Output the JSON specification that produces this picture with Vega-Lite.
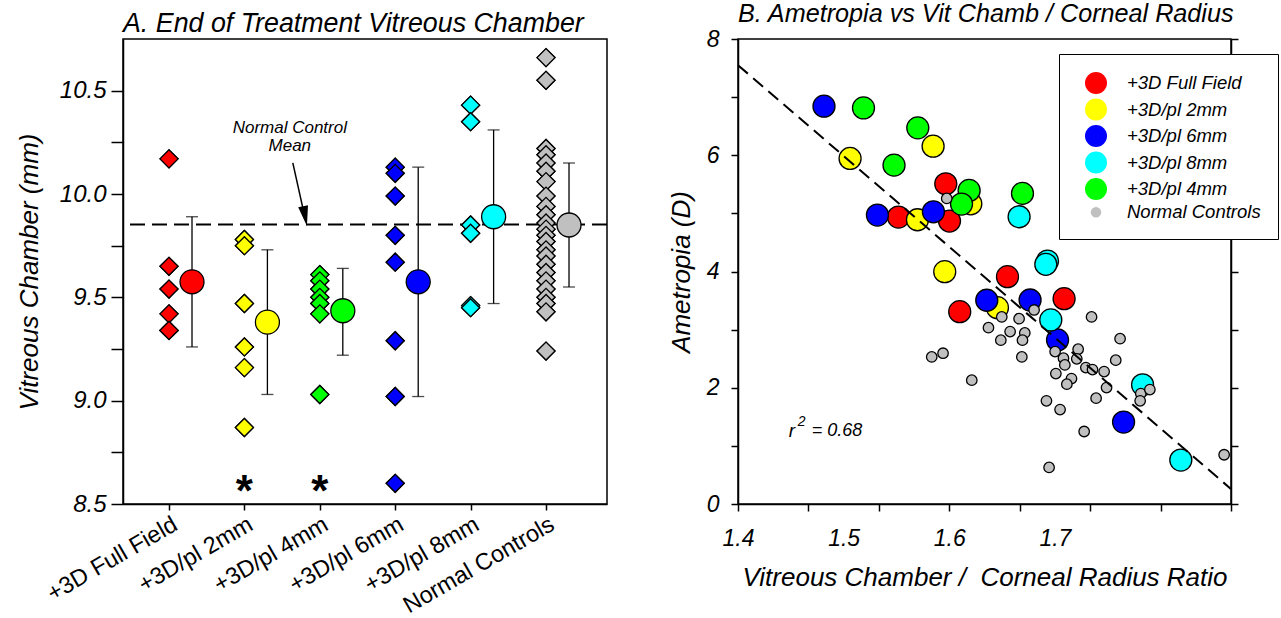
{
  "$schema": "https://vega.github.io/schema/vega-lite/v6.json",
  "background": "white",
  "padding": {"left": 15, "top": 1, "right": 5, "bottom": 5},
  "spacing": 58,
  "config": {
    "font": "Liberation Sans",
    "view": {"stroke": "black", "strokeWidth": 1.5},
    "axis": {"domainColor": "black", "tickColor": "black", "labelColor": "black", "titleColor": "black", "grid": false, "domainWidth": 1.5, "tickWidth": 1.5, "labelFont": "Liberation Sans", "titleFont": "Liberation Sans", "labelFlush": false, "labelOverlap": false, "labelBound": false},
    "title": {"anchor": "start", "frame": "group", "fontSize": 26, "fontStyle": "italic", "fontWeight": "normal", "font": "Liberation Sans", "color": "black", "offset": 1}
  },
  "datasets": {
    "one": [{"k": 1}],
    "dia": [
      {"g": "+3D Full Field", "v": 10.17}, {"g": "+3D Full Field", "v": 9.65}, {"g": "+3D Full Field", "v": 9.54}, {"g": "+3D Full Field", "v": 9.42}, {"g": "+3D Full Field", "v": 9.34}, {"g": "+3D Full Field", "v": 9.34},
      {"g": "+3D/pl 2mm", "v": 9.78}, {"g": "+3D/pl 2mm", "v": 9.75}, {"g": "+3D/pl 2mm", "v": 9.47}, {"g": "+3D/pl 2mm", "v": 9.26}, {"g": "+3D/pl 2mm", "v": 9.16}, {"g": "+3D/pl 2mm", "v": 8.87},
      {"g": "+3D/pl 4mm", "v": 9.61}, {"g": "+3D/pl 4mm", "v": 9.58}, {"g": "+3D/pl 4mm", "v": 9.54}, {"g": "+3D/pl 4mm", "v": 9.5}, {"g": "+3D/pl 4mm", "v": 9.47}, {"g": "+3D/pl 4mm", "v": 9.42}, {"g": "+3D/pl 4mm", "v": 9.03},
      {"g": "+3D/pl 6mm", "v": 10.13}, {"g": "+3D/pl 6mm", "v": 10.1}, {"g": "+3D/pl 6mm", "v": 9.99}, {"g": "+3D/pl 6mm", "v": 9.8}, {"g": "+3D/pl 6mm", "v": 9.67}, {"g": "+3D/pl 6mm", "v": 9.29}, {"g": "+3D/pl 6mm", "v": 9.02}, {"g": "+3D/pl 6mm", "v": 8.6},
      {"g": "+3D/pl 8mm", "v": 10.43}, {"g": "+3D/pl 8mm", "v": 10.35}, {"g": "+3D/pl 8mm", "v": 9.85}, {"g": "+3D/pl 8mm", "v": 9.81}, {"g": "+3D/pl 8mm", "v": 9.46}, {"g": "+3D/pl 8mm", "v": 9.45},
      {"g": "Normal Controls", "v": 10.66}, {"g": "Normal Controls", "v": 10.55}, {"g": "Normal Controls", "v": 10.22}, {"g": "Normal Controls", "v": 10.19}, {"g": "Normal Controls", "v": 10.15}, {"g": "Normal Controls", "v": 10.11}, {"g": "Normal Controls", "v": 10.06}, {"g": "Normal Controls", "v": 9.99}, {"g": "Normal Controls", "v": 9.94}, {"g": "Normal Controls", "v": 9.9}, {"g": "Normal Controls", "v": 9.86}, {"g": "Normal Controls", "v": 9.83}, {"g": "Normal Controls", "v": 9.8}, {"g": "Normal Controls", "v": 9.77}, {"g": "Normal Controls", "v": 9.73}, {"g": "Normal Controls", "v": 9.7}, {"g": "Normal Controls", "v": 9.66}, {"g": "Normal Controls", "v": 9.62}, {"g": "Normal Controls", "v": 9.58}, {"g": "Normal Controls", "v": 9.54}, {"g": "Normal Controls", "v": 9.5}, {"g": "Normal Controls", "v": 9.47}, {"g": "Normal Controls", "v": 9.43}, {"g": "Normal Controls", "v": 9.24}
    ],
    "means": [
      {"g": "+3D Full Field", "mean": 9.575, "lo": 9.26, "hi": 9.89},
      {"g": "+3D/pl 2mm", "mean": 9.38, "lo": 9.03, "hi": 9.73},
      {"g": "+3D/pl 4mm", "mean": 9.435, "lo": 9.22, "hi": 9.64},
      {"g": "+3D/pl 6mm", "mean": 9.575, "lo": 9.02, "hi": 10.13},
      {"g": "+3D/pl 8mm", "mean": 9.89, "lo": 9.47, "hi": 10.31},
      {"g": "Normal Controls", "mean": 9.85, "lo": 9.55, "hi": 10.15}
    ],
    "notes": [
      {"g": "+3D/pl 4mm", "v": 10.32, "t": "Normal Control"},
      {"g": "+3D/pl 4mm", "v": 10.232, "t": "Mean"}
    ],
    "stars": [
      {"g": "+3D/pl 2mm", "v": 8.6, "t": "*"},
      {"g": "+3D/pl 4mm", "v": 8.6, "t": "*"}
    ],
    "pts": [
      {"g": "+3D Full Field", "ratio": 1.5967, "amet": 5.509},
      {"g": "+3D Full Field", "ratio": 1.5519, "amet": 4.936},
      {"g": "+3D Full Field", "ratio": 1.6002, "amet": 4.868},
      {"g": "+3D Full Field", "ratio": 1.6551, "amet": 3.911},
      {"g": "+3D Full Field", "ratio": 1.7087, "amet": 3.533},
      {"g": "+3D Full Field", "ratio": 1.6099, "amet": 3.309},
      {"g": "+3D/pl 2mm", "ratio": 1.5847, "amet": 6.156},
      {"g": "+3D/pl 2mm", "ratio": 1.5061, "amet": 5.945},
      {"g": "+3D/pl 2mm", "ratio": 1.5699, "amet": 4.89},
      {"g": "+3D/pl 2mm", "ratio": 1.6204, "amet": 5.165},
      {"g": "+3D/pl 2mm", "ratio": 1.5957, "amet": 3.997},
      {"g": "+3D/pl 2mm", "ratio": 1.6456, "amet": 3.378},
      {"g": "+3D/pl 6mm", "ratio": 1.4814, "amet": 6.844},
      {"g": "+3D/pl 6mm", "ratio": 1.532, "amet": 4.971},
      {"g": "+3D/pl 6mm", "ratio": 1.585, "amet": 5.027},
      {"g": "+3D/pl 6mm", "ratio": 1.6355, "amet": 3.505},
      {"g": "+3D/pl 6mm", "ratio": 1.6765, "amet": 3.51},
      {"g": "+3D/pl 6mm", "ratio": 1.7025, "amet": 2.823},
      {"g": "+3D/pl 6mm", "ratio": 1.765, "amet": 1.409},
      {"g": "+3D/pl 8mm", "ratio": 1.6661, "amet": 4.942},
      {"g": "+3D/pl 8mm", "ratio": 1.693, "amet": 4.18},
      {"g": "+3D/pl 8mm", "ratio": 1.6914, "amet": 4.124},
      {"g": "+3D/pl 8mm", "ratio": 1.6961, "amet": 3.167},
      {"g": "+3D/pl 8mm", "ratio": 1.783, "amet": 2.05},
      {"g": "+3D/pl 8mm", "ratio": 1.8192, "amet": 0.756},
      {"g": "+3D/pl 4mm", "ratio": 1.5188, "amet": 6.814},
      {"g": "+3D/pl 4mm", "ratio": 1.5702, "amet": 6.471},
      {"g": "+3D/pl 4mm", "ratio": 1.5477, "amet": 5.83},
      {"g": "+3D/pl 4mm", "ratio": 1.6188, "amet": 5.395},
      {"g": "+3D/pl 4mm", "ratio": 1.6116, "amet": 5.16},
      {"g": "+3D/pl 4mm", "ratio": 1.6693, "amet": 5.344},
      {"g": "Normal Controls", "ratio": 1.5976, "amet": 5.258},
      {"g": "Normal Controls", "ratio": 1.5834, "amet": 2.531},
      {"g": "Normal Controls", "ratio": 1.5941, "amet": 2.594},
      {"g": "Normal Controls", "ratio": 1.6213, "amet": 2.131},
      {"g": "Normal Controls", "ratio": 1.6497, "amet": 3.218},
      {"g": "Normal Controls", "ratio": 1.6661, "amet": 3.189},
      {"g": "Normal Controls", "ratio": 1.6803, "amet": 3.338},
      {"g": "Normal Controls", "ratio": 1.6371, "amet": 3.034},
      {"g": "Normal Controls", "ratio": 1.6576, "amet": 2.966},
      {"g": "Normal Controls", "ratio": 1.6715, "amet": 2.943},
      {"g": "Normal Controls", "ratio": 1.6488, "amet": 2.818},
      {"g": "Normal Controls", "ratio": 1.6693, "amet": 2.818},
      {"g": "Normal Controls", "ratio": 1.7347, "amet": 3.218},
      {"g": "Normal Controls", "ratio": 1.7617, "amet": 2.845},
      {"g": "Normal Controls", "ratio": 1.7002, "amet": 2.622},
      {"g": "Normal Controls", "ratio": 1.722, "amet": 2.663},
      {"g": "Normal Controls", "ratio": 1.6687, "amet": 2.531},
      {"g": "Normal Controls", "ratio": 1.7081, "amet": 2.509},
      {"g": "Normal Controls", "ratio": 1.7207, "amet": 2.497},
      {"g": "Normal Controls", "ratio": 1.7094, "amet": 2.393},
      {"g": "Normal Controls", "ratio": 1.7576, "amet": 2.474},
      {"g": "Normal Controls", "ratio": 1.7293, "amet": 2.347},
      {"g": "Normal Controls", "ratio": 1.7356, "amet": 2.313},
      {"g": "Normal Controls", "ratio": 1.7466, "amet": 2.278},
      {"g": "Normal Controls", "ratio": 1.7009, "amet": 2.244},
      {"g": "Normal Controls", "ratio": 1.7157, "amet": 2.158},
      {"g": "Normal Controls", "ratio": 1.7113, "amet": 2.062},
      {"g": "Normal Controls", "ratio": 1.7489, "amet": 2.003},
      {"g": "Normal Controls", "ratio": 1.7813, "amet": 1.9},
      {"g": "Normal Controls", "ratio": 1.7899, "amet": 1.969},
      {"g": "Normal Controls", "ratio": 1.7807, "amet": 1.775},
      {"g": "Normal Controls", "ratio": 1.692, "amet": 1.775},
      {"g": "Normal Controls", "ratio": 1.7049, "amet": 1.625},
      {"g": "Normal Controls", "ratio": 1.739, "amet": 1.821},
      {"g": "Normal Controls", "ratio": 1.7277, "amet": 1.247},
      {"g": "Normal Controls", "ratio": 1.8602, "amet": 0.847},
      {"g": "Normal Controls", "ratio": 1.6945, "amet": 0.629}
    ],
    "reg": [
      {"ratio": 1.4, "amet": 7.55},
      {"ratio": 1.8666, "amet": 0.26}
    ]
  },
  "hconcat": [
    {
      "width": 484,
      "height": 465,
      "title": {"text": "A. End of Treatment Vitreous Chamber", "fontSize": 26.8},
      "layer": [
        {
          "data": {"name": "dia"},
          "mark": {"type": "point", "shape": "diamond", "filled": true, "opacity": 1, "size": 324, "stroke": "black", "strokeWidth": 1.3},
          "encoding": {
            "x": {"field": "g", "type": "nominal", "sort": null,
              "scale": {"type": "point", "domain": ["+3D Full Field", "+3D/pl 2mm", "+3D/pl 4mm", "+3D/pl 6mm", "+3D/pl 8mm", "Normal Controls"], "padding": 0.7095, "align": 0.43},
              "axis": {"title": null, "labelAngle": -30, "labelAlign": "right", "labelBaseline": "top", "labelFontSize": 23.5, "labelPadding": 2, "tickSize": 6, "domain": true}},
            "y": {"field": "v", "type": "quantitative",
              "scale": {"domain": [8.5, 10.75], "nice": false, "zero": false},
              "axis": {"title": "Vitreous Chamber (mm)", "titleFontSize": 26, "titleFontStyle": "italic", "titleFontWeight": "normal", "titlePadding": 17,
                "values": [8.5, 8.75, 9, 9.25, 9.5, 9.75, 10, 10.25, 10.5], "labelExpr": "(datum.value * 2) % 1 == 0 ? format(datum.value, '.1f') : ''",
                "labelFontSize": 24, "labelFontStyle": "italic", "tickSize": 12, "labelPadding": 5}},
            "fill": {"field": "g", "type": "nominal", "legend": null,
              "scale": {"domain": ["+3D Full Field", "+3D/pl 2mm", "+3D/pl 4mm", "+3D/pl 6mm", "+3D/pl 8mm", "Normal Controls"], "range": ["#FF0000", "#FFFF00", "#00FF00", "#0000FF", "#00FFFF", "#C0C0C0"]}}
          }
        },
        {
          "data": {"name": "one"},
          "mark": {"type": "rule", "strokeDash": [15, 7], "strokeWidth": 2, "color": "black"},
          "encoding": {"y": {"datum": 9.853, "type": "quantitative"}}
        },
        {
          "data": {"name": "dia"},
          "mark": {"type": "point", "shape": "diamond", "filled": true, "opacity": 1, "size": 324, "stroke": "black", "strokeWidth": 1.3},
          "encoding": {
            "x": {"field": "g", "type": "nominal"},
            "y": {"field": "v", "type": "quantitative"},
            "fill": {"field": "g", "type": "nominal", "legend": null}
          }
        },
        {
          "data": {"name": "means"},
          "mark": {"type": "rule", "xOffset": 23, "strokeWidth": 1.3, "color": "black"},
          "encoding": {
            "x": {"field": "g", "type": "nominal"},
            "y": {"field": "lo", "type": "quantitative"},
            "y2": {"field": "hi"}
          }
        },
        {
          "data": {"name": "means"},
          "mark": {"type": "tick", "xOffset": 23, "size": 12, "thickness": 1.3, "color": "black"},
          "encoding": {
            "x": {"field": "g", "type": "nominal"},
            "y": {"field": "lo", "type": "quantitative"}
          }
        },
        {
          "data": {"name": "means"},
          "mark": {"type": "tick", "xOffset": 23, "size": 12, "thickness": 1.3, "color": "black"},
          "encoding": {
            "x": {"field": "g", "type": "nominal"},
            "y": {"field": "hi", "type": "quantitative"}
          }
        },
        {
          "data": {"name": "means"},
          "mark": {"type": "point", "shape": "circle", "filled": true, "opacity": 1, "size": 576, "stroke": "black", "strokeWidth": 1.3, "xOffset": 23},
          "encoding": {
            "x": {"field": "g", "type": "nominal"},
            "y": {"field": "mean", "type": "quantitative"},
            "fill": {"field": "g", "type": "nominal", "legend": null}
          }
        },
        {
          "data": {"name": "one"},
          "mark": {"type": "rule", "strokeWidth": 1.5, "color": "black", "xOffset": -27, "x2Offset": -15.5},
          "encoding": {
            "x": {"datum": "+3D/pl 4mm", "type": "nominal"},
            "x2": {"datum": "+3D/pl 4mm"},
            "y": {"datum": 10.151, "type": "quantitative"},
            "y2": {"datum": 9.9}
          }
        },
        {
          "data": {"name": "one"},
          "mark": {"type": "point", "shape": "M-0.5,-1L0.5,-1L0,1Z", "filled": true, "opacity": 1, "color": "black", "size": 400, "angle": 349, "xOffset": -14.8},
          "encoding": {
            "x": {"datum": "+3D/pl 4mm", "type": "nominal"},
            "y": {"datum": 9.893, "type": "quantitative"}
          }
        },
        {
          "data": {"name": "notes"},
          "mark": {"type": "text", "fontSize": 17, "fontStyle": "italic", "dx": -30, "align": "center", "baseline": "middle", "color": "black"},
          "encoding": {
            "x": {"field": "g", "type": "nominal"},
            "y": {"field": "v", "type": "quantitative"},
            "text": {"field": "t"}
          }
        },
        {
          "data": {"name": "stars"},
          "mark": {"type": "text", "fontSize": 44, "fontWeight": "bold", "align": "center", "baseline": "middle", "dy": 10, "color": "black"},
          "encoding": {
            "x": {"field": "g", "type": "nominal"},
            "y": {"field": "v", "type": "quantitative"},
            "text": {"field": "t"}
          }
        }
      ]
    },
    {
      "width": 493,
      "height": 465,
      "title": {"text": "B. Ametropia vs Vit Chamb / Corneal Radius", "fontSize": 25.2},
      "resolve": {"axis": {"x": "independent", "y": "independent"}},
      "layer": [
        {
          "data": {"name": "pts"},
          "mark": {"type": "point", "shape": "circle", "filled": true, "opacity": 1, "stroke": "black", "strokeWidth": 1.3},
          "encoding": {
            "x": {"field": "ratio", "type": "quantitative",
              "scale": {"domain": [1.4, 1.8667], "nice": false, "zero": false},
              "axis": {"orient": "bottom", "values": [1.4, 1.5, 1.6, 1.7], "format": ".1f", "ticks": false, "tickSize": 0, "domain": false, "labelPadding": 23, "labelFontSize": 23, "labelFontStyle": "italic",
                "title": "Vitreous Chamber /\u00a0 Corneal Radius Ratio", "titleFontSize": 26, "titleFontStyle": "italic", "titleFontWeight": "normal", "titlePadding": 14}},
            "y": {"field": "amet", "type": "quantitative",
              "scale": {"domain": [0, 8], "nice": false, "zero": false},
              "axis": {"orient": "left", "values": [0, 1, 2, 3, 4, 5, 6, 7, 8], "labelExpr": "datum.value % 2 == 0 ? datum.label : ''", "labelFontSize": 23, "labelFontStyle": "italic", "tickSize": 7, "labelPadding": 12,
                "title": "Ametropia (D)", "titleFontSize": 26, "titleFontStyle": "italic", "titleFontWeight": "normal", "titlePadding": 12}},
            "fill": {"field": "g", "type": "nominal",
              "scale": {"domain": ["+3D Full Field", "+3D/pl 2mm", "+3D/pl 6mm", "+3D/pl 8mm", "+3D/pl 4mm", "Normal Controls"], "range": ["#FF0000", "#FFFF00", "#0000FF", "#00FFFF", "#00FF00", "#C0C0C0"]},
              "legend": {"orient": "none", "legendX": 321, "legendY": 15, "title": null, "strokeColor": "black", "fillColor": "white", "padding": 17, "symbolOffset": 8, "labelFontSize": 18.5, "labelFontStyle": "italic", "labelColor": "black", "labelOffset": 19, "rowPadding": -1.5, "symbolType": "circle", "symbolStrokeColor": "black", "symbolStrokeWidth": 1.3}},
            "size": {"field": "g", "type": "nominal",
              "scale": {"type": "ordinal", "domain": ["+3D Full Field", "+3D/pl 2mm", "+3D/pl 6mm", "+3D/pl 8mm", "+3D/pl 4mm", "Normal Controls"], "range": [484, 484, 484, 484, 484, 110]},
              "legend": {"orient": "none", "legendX": 321, "legendY": 15, "title": null, "strokeColor": "black", "fillColor": "white", "padding": 17, "symbolOffset": 8, "labelFontSize": 18.5, "labelFontStyle": "italic", "labelColor": "black", "labelOffset": 19, "rowPadding": -1.5, "symbolType": "circle", "symbolStrokeColor": "black", "symbolStrokeWidth": 1.3}}
          }
        },
        {
          "data": {"name": "reg"},
          "mark": {"type": "line", "strokeDash": [13, 7], "strokeWidth": 2, "color": "black"},
          "encoding": {
            "x": {"field": "ratio", "type": "quantitative",
              "axis": {"orient": "bottom", "values": [1.4, 1.46667, 1.53333, 1.6, 1.66667, 1.73333, 1.8, 1.8667], "labels": false, "tickSize": 7, "title": null}},
            "y": {"field": "amet", "type": "quantitative",
              "axis": {"orient": "right", "values": [0, 1, 2, 3, 4, 5, 6, 7, 8], "labels": false, "tickSize": 7, "title": null}}
          }
        },
        {
          "data": {"name": "one"},
          "mark": {"type": "text", "text": "r", "fontSize": 19, "fontStyle": "italic", "align": "left", "baseline": "middle", "color": "black"},
          "encoding": {
            "x": {"datum": 1.448, "type": "quantitative", "axis": null},
            "y": {"datum": 1.26, "type": "quantitative", "axis": null}
          }
        },
        {
          "data": {"name": "one"},
          "mark": {"type": "text", "text": "2", "fontSize": 14, "fontStyle": "italic", "align": "left", "baseline": "middle", "dx": 9, "dy": -9, "color": "black"},
          "encoding": {
            "x": {"datum": 1.448, "type": "quantitative", "axis": null},
            "y": {"datum": 1.26, "type": "quantitative", "axis": null}
          }
        },
        {
          "data": {"name": "one"},
          "mark": {"type": "text", "text": "= 0.68", "fontSize": 18, "fontStyle": "italic", "align": "left", "baseline": "middle", "dx": 23, "color": "black"},
          "encoding": {
            "x": {"datum": 1.448, "type": "quantitative", "axis": null},
            "y": {"datum": 1.26, "type": "quantitative", "axis": null}
          }
        }
      ]
    }
  ],
  "resolve": {"scale": {"fill": "independent", "size": "independent"}, "legend": {"fill": "independent", "size": "independent"}}
}
